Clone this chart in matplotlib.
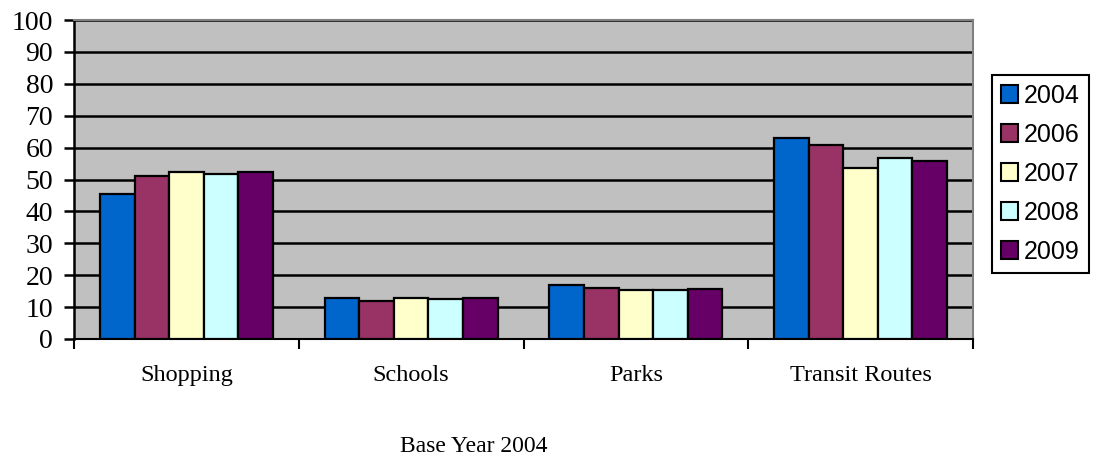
import numpy as np
import matplotlib
matplotlib.use('Agg')
import matplotlib.pyplot as plt
from matplotlib.patches import Patch

categories = ["Shopping", "Schools", "Parks", "Transit Routes"]
years = ["2004", "2006", "2007", "2008", "2009"]
v2004 = [45.4, 13.0, 17.0, 63.0]
v2006 = [51.2, 11.9, 16.1, 60.8]
v2007 = [52.2, 13.0, 15.5, 53.5]
v2008 = [51.7, 12.6, 15.3, 56.6]
v2009 = [52.5, 13.0, 15.7, 55.8]
values = [v2004, v2006, v2007, v2008, v2009]
colors = ['#0066CC', '#993366', '#FFFFCC', '#CCFFFF', '#660066']
yticks = [0, 10, 20, 30, 40, 50, 60, 70, 80, 90, 100]

serif = 'Liberation Serif'
sans = 'Liberation Sans'

fig = plt.figure(figsize=(10.97, 4.58), dpi=100)
ax = fig.add_axes([74/1097, 1-339/458, (973-74)/1097, (339-20)/458])
ax.set_facecolor('#C0C0C0')

x = np.arange(len(categories))
w = 1/6.5
for i in range(len(years)):
    ax.bar(x + (i-2)*w, values[i], w, color=colors[i], edgecolor='black',
           linewidth=1.6, zorder=3)

ax.set_xlim(-0.5, len(categories)-0.5)
ax.set_ylim(0, 100)
ax.set_yticks(yticks)
ax.set_yticklabels([str(t) for t in yticks], fontsize=20, family=serif)
ax.yaxis.grid(True, color='black', linewidth=1.8, zorder=1)
ax.set_axisbelow(True)
ax.tick_params(axis='y', direction='out', length=7, width=1.8, pad=8)

# category boundaries get the ticks, names sit in between
ax.set_xticks(np.arange(len(categories)+1)-0.5)
ax.set_xticklabels([])
ax.set_xticks(x, minor=True)
ax.set_xticklabels(categories, minor=True, fontsize=17.5, family=serif)
ax.tick_params(axis='x', which='major', direction='out', length=7, width=1.5)
ax.tick_params(axis='x', which='minor', length=0, pad=19)

ax.spines['left'].set_linewidth(1.8)
ax.spines['bottom'].set_linewidth(1.5)
ax.spines['top'].set_color('#808080')
ax.spines['right'].set_color('#808080')
ax.spines['top'].set_linewidth(1.5)
ax.spines['right'].set_linewidth(1.5)

handles = [Patch(facecolor=colors[i], edgecolor='black', linewidth=1.5) for i in range(len(years))]
leg = fig.legend(handles, years, loc='upper left', bbox_to_anchor=(992/1097, 1-75/458),
                 prop={'family': sans, 'size': 18}, frameon=True, fancybox=False,
                 handlelength=0.68, handleheight=0.68,
                 handletextpad=0.25, labelspacing=0.6, borderpad=0.35, borderaxespad=0)
leg.get_frame().set_edgecolor('black')
leg.get_frame().set_linewidth(1.5)
leg.get_frame().set_alpha(1)

fig.text(474/1097, 1-446/458, "Base Year 2004", ha='center', va='center',
         fontsize=17, family=serif)

plt.savefig('out.png', dpi=100)
